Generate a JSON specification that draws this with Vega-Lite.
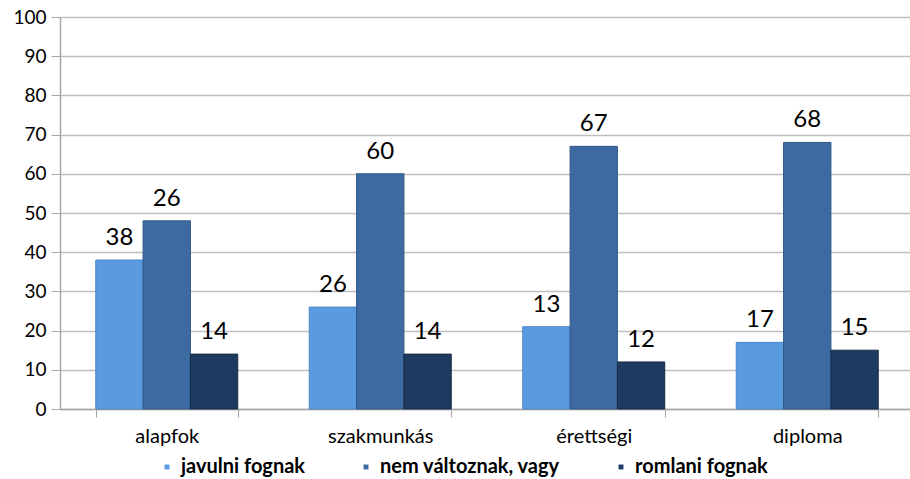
{
  "$schema": "https://vega.github.io/schema/vega-lite/v6.json",
  "width": 854,
  "height": 392,
  "autosize": {"type": "none"},
  "padding": {"left": 60, "top": 17, "right": 0, "bottom": 70},
  "background": "white",
  "config": {
    "view": {"stroke": null},
    "font": "Lato",
    "axis": {"labelFont": "Lato", "labelColor": "#000000"}
  },
  "data": {
    "values": [
      {"iskola": "alapfok", "valasz": "javulni fognak", "ertek": 38, "cimke": "38"},
      {"iskola": "alapfok", "valasz": "nem változnak, vagy", "ertek": 48, "cimke": "26"},
      {"iskola": "alapfok", "valasz": "romlani fognak", "ertek": 14, "cimke": "14"},
      {"iskola": "szakmunkás", "valasz": "javulni fognak", "ertek": 26, "cimke": "26"},
      {"iskola": "szakmunkás", "valasz": "nem változnak, vagy", "ertek": 60, "cimke": "60"},
      {"iskola": "szakmunkás", "valasz": "romlani fognak", "ertek": 14, "cimke": "14"},
      {"iskola": "érettségi", "valasz": "javulni fognak", "ertek": 21, "cimke": "13"},
      {"iskola": "érettségi", "valasz": "nem változnak, vagy", "ertek": 67, "cimke": "67"},
      {"iskola": "érettségi", "valasz": "romlani fognak", "ertek": 12, "cimke": "12"},
      {"iskola": "diploma", "valasz": "javulni fognak", "ertek": 17, "cimke": "17"},
      {"iskola": "diploma", "valasz": "nem változnak, vagy", "ertek": 68, "cimke": "68"},
      {"iskola": "diploma", "valasz": "romlani fognak", "ertek": 15, "cimke": "15"}
    ]
  },
  "encoding": {
    "x": {
      "field": "iskola",
      "type": "nominal",
      "sort": ["alapfok", "szakmunkás", "érettségi", "diploma"],
      "scale": {"paddingInner": 0.335, "paddingOuter": 0.1675},
      "axis": {
        "title": null,
        "labelAngle": 0,
        "labelFontSize": 20,
        "labelPadding": 9,
        "tickBand": "extent",
        "ticks": true,
        "tickSize": 8,
        "tickColor": "#a6a6a6",
        "domainColor": "#a6a6a6",
        "domainWidth": 1.5,
        "grid": false
      }
    },
    "xOffset": {
      "field": "valasz",
      "type": "nominal",
      "sort": ["javulni fognak", "nem változnak, vagy", "romlani fognak"],
      "scale": {"paddingInner": 0, "paddingOuter": 0}
    },
    "y": {
      "field": "ertek",
      "type": "quantitative",
      "scale": {"domain": [0, 100], "nice": false},
      "axis": {
        "title": null,
        "values": [0, 10, 20, 30, 40, 50, 60, 70, 80, 90, 100],
        "labelFontSize": 19,
        "labelPadding": 5,
        "tickSize": 9,
        "tickColor": "#a6a6a6",
        "domainColor": "#a6a6a6",
        "domainWidth": 1.5,
        "gridColor": "#bfbfbf",
        "gridWidth": 1.5
      }
    }
  },
  "layer": [
    {
      "mark": {"type": "bar", "strokeWidth": 1},
      "encoding": {
        "color": {
          "field": "valasz",
          "type": "nominal",
          "sort": ["javulni fognak", "nem változnak, vagy", "romlani fognak"],
          "scale": {
            "domain": ["javulni fognak", "nem változnak, vagy", "romlani fognak"],
            "range": ["#5a9be0", "#3d6aa0", "#1f3a60"]
          },
          "legend": {
            "title": null,
            "orient": "none",
            "legendX": 97,
            "legendY": 440,
            "direction": "horizontal",
            "symbolType": "square",
            "symbolSize": 130,
            "symbolStrokeWidth": 0,
            "labelFontSize": 20,
            "labelFontWeight": "bold",
            "labelFont": "Lato",
            "labelColor": "#000000",
            "labelLimit": 400,
            "labelOffset": 4,
            "columnPadding": 50,
            "encode": {
              "symbols": {"update": {"size": {"value": 130}, "strokeWidth": {"value": 0}}}
            }
          }
        },
        "stroke": {
          "field": "valasz",
          "type": "nominal",
          "scale": {
            "domain": ["javulni fognak", "nem változnak, vagy", "romlani fognak"],
            "range": ["#4a86c8", "#2f5788", "#152a48"]
          },
          "legend": null
        }
      }
    },
    {
      "mark": {"type": "text", "baseline": "bottom", "dy": -10, "color": "#000000", "font": "Lato"},
      "encoding": {
        "text": {"field": "cimke", "type": "nominal"},
        "size": {
          "field": "valasz",
          "type": "nominal",
          "scale": {
            "domain": ["javulni fognak", "nem változnak, vagy", "romlani fognak"],
            "range": [24, 24, 18]
          },
          "legend": null
        }
      }
    }
  ]
}
